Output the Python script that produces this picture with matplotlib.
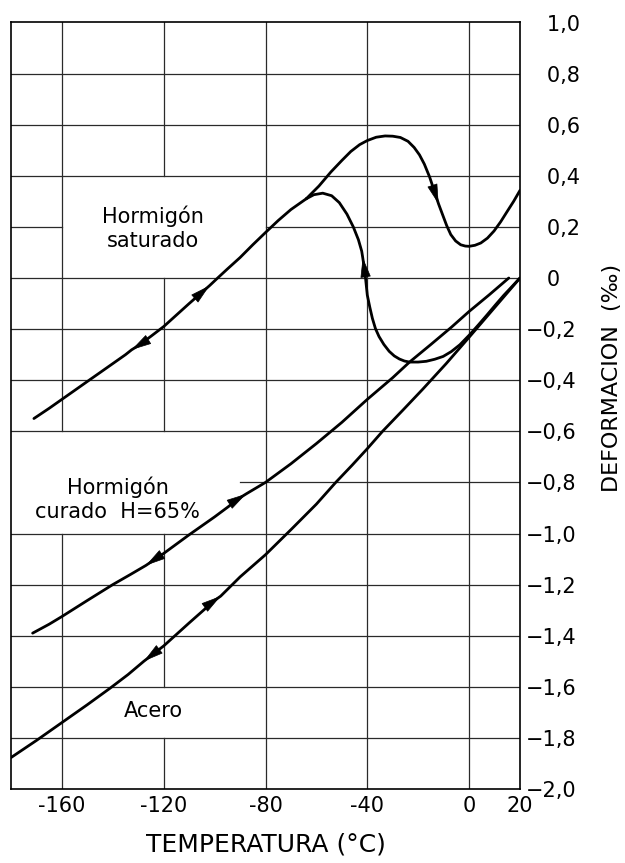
import matplotlib.pyplot as plt
import numpy as np

# Hormigón saturado: tramo común (enfriamiento / calentamiento) hasta la bifurcación
sat_x = [-171, -165, -160, -155, -149.3, -145, -140, -135, -132.6, -130, -125, -120,
         -115, -110, -102, -98.8, -95, -90, -85, -80, -75, -70, -64]
sat_y = [-0.55, -0.51, -0.475, -0.44, -0.40, -0.37, -0.335, -0.30, -0.281, -0.265, -0.228, -0.19,
         -0.145, -0.10, -0.03, 0.0, 0.035, 0.08, 0.13, 0.178, 0.225, 0.268, 0.31]

# Hormigón saturado: rama superior (calentamiento)
sup_x = [-64, -59, -54.3, -50, -46.5, -43, -40, -36.5, -33, -30, -27, -24, -21.6, -19.5,
         -17.6, -15.5, -13.7, -12, -10.5, -8.8, -7.2, -5.3, -3.3, -1.5, 0, 2.3, 4.6, 7.2,
         9.8, 12.4, 15, 17.5, 20]
sup_y = [0.31, 0.36, 0.415, 0.46, 0.495, 0.522, 0.538, 0.551, 0.556, 0.555, 0.55, 0.535, 0.511, 0.482,
         0.446, 0.395, 0.341, 0.29, 0.25, 0.205, 0.17, 0.145, 0.13, 0.125, 0.124, 0.128, 0.137, 0.156,
         0.184, 0.22, 0.261, 0.30, 0.343]

# Hormigón saturado: rama inferior (enfriamiento desde 20 °C)
inf_x = [-64, -61, -57.5, -54, -51, -48, -45.5, -43.5, -42.2, -41.8, -41.2, -40.7, -40, -39,
         -38, -36.8, -35.4, -33.5, -31.4, -29.4, -27.4, -25.4, -23.4, -20, -16.8, -13.5, -10.2,
         -7, -3.6, 0.4, 3.7, 7, 10.3, 13.6, 16.8, 20]
inf_y = [0.31, 0.326, 0.332, 0.322, 0.295, 0.25, 0.20, 0.15, 0.105, 0.08, 0.04, 0.0, -0.067, -0.115,
         -0.158, -0.198, -0.229, -0.26, -0.287, -0.305, -0.317, -0.325, -0.329, -0.329, -0.326, -0.318, -0.307,
         -0.288, -0.261, -0.22, -0.183, -0.145, -0.106, -0.068, -0.034, 0.0]

# Hormigón curado H=65%
cur_x = [-171.5, -165, -160, -150, -140, -133, -127, -120, -110, -100, -95, -90, -87.6, -80,
         -70, -60, -50, -40, -30, -23.4, -15, -7, 0, 8, 15.6]
cur_y = [-1.39, -1.355, -1.325, -1.262, -1.20, -1.16, -1.125, -1.078, -1.005, -0.935, -0.898, -0.86, -0.845, -0.80,
         -0.727, -0.648, -0.565, -0.475, -0.39, -0.329, -0.26, -0.193, -0.131, -0.065, 0.0]

# Acero
ace_x = [-180, -170, -160, -150, -141, -134, -127.8, -120, -110, -100, -97.6, -90, -80, -70,
         -60, -52.4, -46, -40, -34, -26, -18.2, -9, 0, 10, 20]
ace_y = [-1.877, -1.81, -1.74, -1.67, -1.605, -1.552, -1.50, -1.44, -1.35, -1.262, -1.245, -1.17, -1.083, -0.985,
         -0.885, -0.80, -0.733, -0.668, -0.60, -0.517, -0.435, -0.335, -0.232, -0.116, 0.0]

# flechas: (curva, temperatura de la punta, paso hacia la cola)
flechas = [
    ('sat', -132.6, +1), ('sat', -102, -1),
    ('sup', -12, -1),
    ('inf', -41.8, +1),
    ('cur', -127, +1), ('cur', -87.6, -1),
    ('ace', -127.8, +1), ('ace', -97.6, -1),
]

xticks = [-160, -120, -80, -40, 0, 20]
yticks = np.round(np.arange(-2.0, 1.01, 0.2), 1)

# huecos de la cuadrícula detrás de los rótulos
huecos_v = {-160: [(-1.0, -0.6)], -120: [(-1.8, -1.6), (-1.0, -0.6), (0.0, 0.4)]}
huecos_h = {0.2: [(-160, -80)], -0.8: [(-180, -90)]}


def tramos(inicio, fin, huecos):
    segs = []
    a = inicio
    for h0, h1 in sorted(huecos):
        if h0 > a:
            segs.append((a, h0))
        a = max(a, h1)
    if fin > a:
        segs.append((a, fin))
    return segs


plt.rcParams['font.family'] = ['DejaVu Sans']

fig = plt.figure(figsize=(6.25, 8.63), dpi=100)
ax = fig.add_axes([11 / 625, 1 - 789 / 863, 509 / 625, 766.5 / 863])
ax.set_xlim(-180, 20)
ax.set_ylim(-2.0, 1.0)

# cuadrícula dibujada a mano para poder dejar huecos
for xv in xticks[:-1]:
    for a, b in tramos(-2.0, 1.0, huecos_v.get(xv, [])):
        ax.plot([xv, xv], [a, b], color='#2a2a2a', lw=0.9, zorder=1)
for yv in yticks[1:-1]:
    for a, b in tramos(-180, 20, huecos_h.get(round(yv, 1), [])):
        ax.plot([a, b], [yv, yv], color='#2a2a2a', lw=0.9, zorder=1)

curvas = {
    'sat': (sat_x, sat_y),
    'sup': (sup_x, sup_y),
    'inf': (inf_x, inf_y),
    'cur': (cur_x, cur_y),
    'ace': (ace_x, ace_y),
}
for xs, ys in curvas.values():
    ax.plot(xs, ys, color='black', lw=2.0, solid_capstyle='round', solid_joinstyle='round', zorder=3)

for nombre, t, paso in flechas:
    xs, ys = curvas[nombre]
    i = int(np.argmin(np.abs(np.array(xs) - t)))
    ax.annotate('', xy=(xs[i], ys[i]), xytext=(xs[i + paso], ys[i + paso]),
                arrowprops=dict(arrowstyle='-|>,head_length=0.65,head_width=0.17',
                                fc='black', ec='black', lw=0.5, mutation_scale=20,
                                shrinkA=0, shrinkB=0),
                zorder=4)

# rótulos de las curvas
ax.text(-124.4, 0.196, 'Hormigón\nsaturado', ha='center', va='center', fontsize=15, linespacing=1.25)
ax.text(-138, -0.865, 'Hormigón\ncurado  H=65%', ha='center', va='center', fontsize=15, linespacing=1.25)
ax.text(-124, -1.695, 'Acero', ha='center', va='center', fontsize=15)

# ejes
ax.set_xticks(xticks)
ax.set_xticklabels([str(v) for v in xticks])
ax.set_yticks(yticks)
ylabels = []
for v in yticks:
    s = ('%.1f' % abs(v)).replace('.', ',')
    if v == 0:
        s = '0'
    ylabels.append(('\u2212' + s) if v < 0 else ('\u2003' + s))
ax.set_yticklabels(ylabels)
ax.yaxis.tick_right()
ax.tick_params(axis='both', length=0, labelsize=15)
ax.tick_params(axis='x', pad=5)
ax.tick_params(axis='y', pad=4)
for sp in ax.spines.values():
    sp.set_linewidth(1.2)

ax.set_xlabel('TEMPERATURA (°C)', fontsize=18, labelpad=12)
fig.text(612 / 625, 1 - 378 / 863, 'DEFORMACION  (‰)', rotation=90, ha='center', va='center', fontsize=16)

fig.savefig('out.png', dpi=100)
